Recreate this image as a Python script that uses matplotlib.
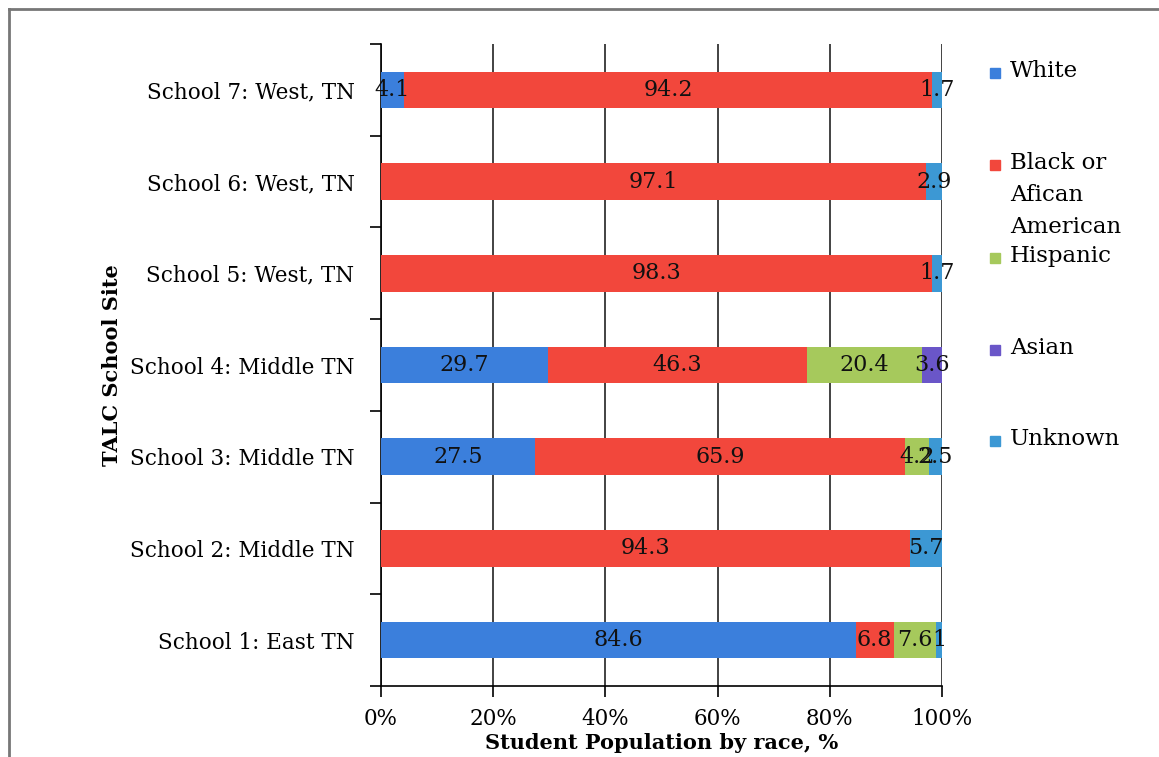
import matplotlib
matplotlib.use("Agg")
import matplotlib.pyplot as plt
from matplotlib.lines import Line2D
from matplotlib.patches import Rectangle
import numpy as np

plt.rcParams['font.family'] = ['DejaVu Serif']

schools = ["School 1: East TN", "School 2: Middle TN", "School 3: Middle TN",
           "School 4: Middle TN", "School 5: West, TN", "School 6: West, TN",
           "School 7: West, TN"]
series = ["White", "Black or\nAfican\nAmerican", "Hispanic", "Asian", "Unknown"]
white = [84.6, 0, 27.5, 29.7, 0, 0, 4.1]
black = [6.8, 94.3, 65.9, 46.3, 98.3, 97.1, 94.2]
hispanic = [7.6, 0, 4.2, 20.4, 0, 0, 0]
asian = [0, 0, 0, 3.6, 0, 0, 0]
unknown = [1, 5.7, 2.5, 0, 1.7, 2.9, 1.7]
colors = ["#3b7fdc", "#f2473c", "#a6c95c", "#6a56c8", "#3c98d4"]
xticks = [0, 20, 40, 60, 80, 100]
xtick_labels = ["0%", "20%", "40%", "60%", "80%", "100%"]

W, H = 1159, 757
fig = plt.figure(figsize=(W / 100, H / 100), dpi=100)
ax = fig.add_axes([381 / W, 1 - 686 / H, (942 - 381) / W, (686 - 44) / H])

y = np.arange(len(schools))
left = np.zeros(len(schools))
data = [white, black, hispanic, asian, unknown]
for vals, col in zip(data, colors):
    vals = np.array(vals, dtype=float)
    ax.barh(y, vals, left=left, height=0.4, color=col, zorder=3,
            edgecolor='none')
    for yi, (l, v) in enumerate(zip(left, vals)):
        if v > 0:
            txt = f"{v:g}"
            ax.text(l + v / 2, yi, txt, ha='center', va='center',
                    fontsize=16, color='#111111', zorder=5)
    left += vals

ax.set_xlim(0, 100)
ax.set_ylim(-0.5, len(schools) - 0.5)
ax.set_xticks(xticks)
ax.set_xticklabels(xtick_labels, fontsize=15.5)
ax.set_yticks(y)
ax.set_yticklabels(schools, fontsize=15.5)
ax.tick_params(axis='y', length=0, pad=19)
ax.tick_params(axis='x', length=8, width=1.2, pad=8, direction='out')
ax.set_yticks(np.arange(-0.5, len(schools), 1), minor=True)
ax.tick_params(axis='y', which='minor', length=8, width=1.2, direction='out')
for xv in xticks:
    ax.axvline(xv, color='#222222', lw=1.2, zorder=1)
for s in ['top', 'right']:
    ax.spines[s].set_visible(False)
ax.spines['left'].set_linewidth(1.2)
ax.spines['bottom'].set_linewidth(1.2)
ax.set_xlabel("Student Population by race, %", fontsize=15,
              fontweight='bold', labelpad=2)
ax.set_ylabel("TALC School Site", fontsize=15, fontweight='bold', labelpad=6)

# legend placed as a column to the right of the plot
legend_y = [73, 165, 258, 350, 441]
for name, col, ly in zip(series, colors, legend_y):
    fig.patches.append(Rectangle((990 / W, 1 - (ly + 5) / H), 10 / W, 10 / H,
                                 transform=fig.transFigure, color=col))
    fig.text(1010 / W, 1 - (ly - 13) / H, name, fontsize=16.5, va='top',
             ha='left', linespacing=1.6)

# chart frame
fig.add_artist(Line2D([9 / W, 1], [1 - 9 / H, 1 - 9 / H],
                      transform=fig.transFigure, color='#777777', lw=2))
fig.add_artist(Line2D([9 / W, 9 / W], [0, 1 - 9 / H],
                      transform=fig.transFigure, color='#777777', lw=2))

fig.savefig("out.png", dpi=100, facecolor='white')
